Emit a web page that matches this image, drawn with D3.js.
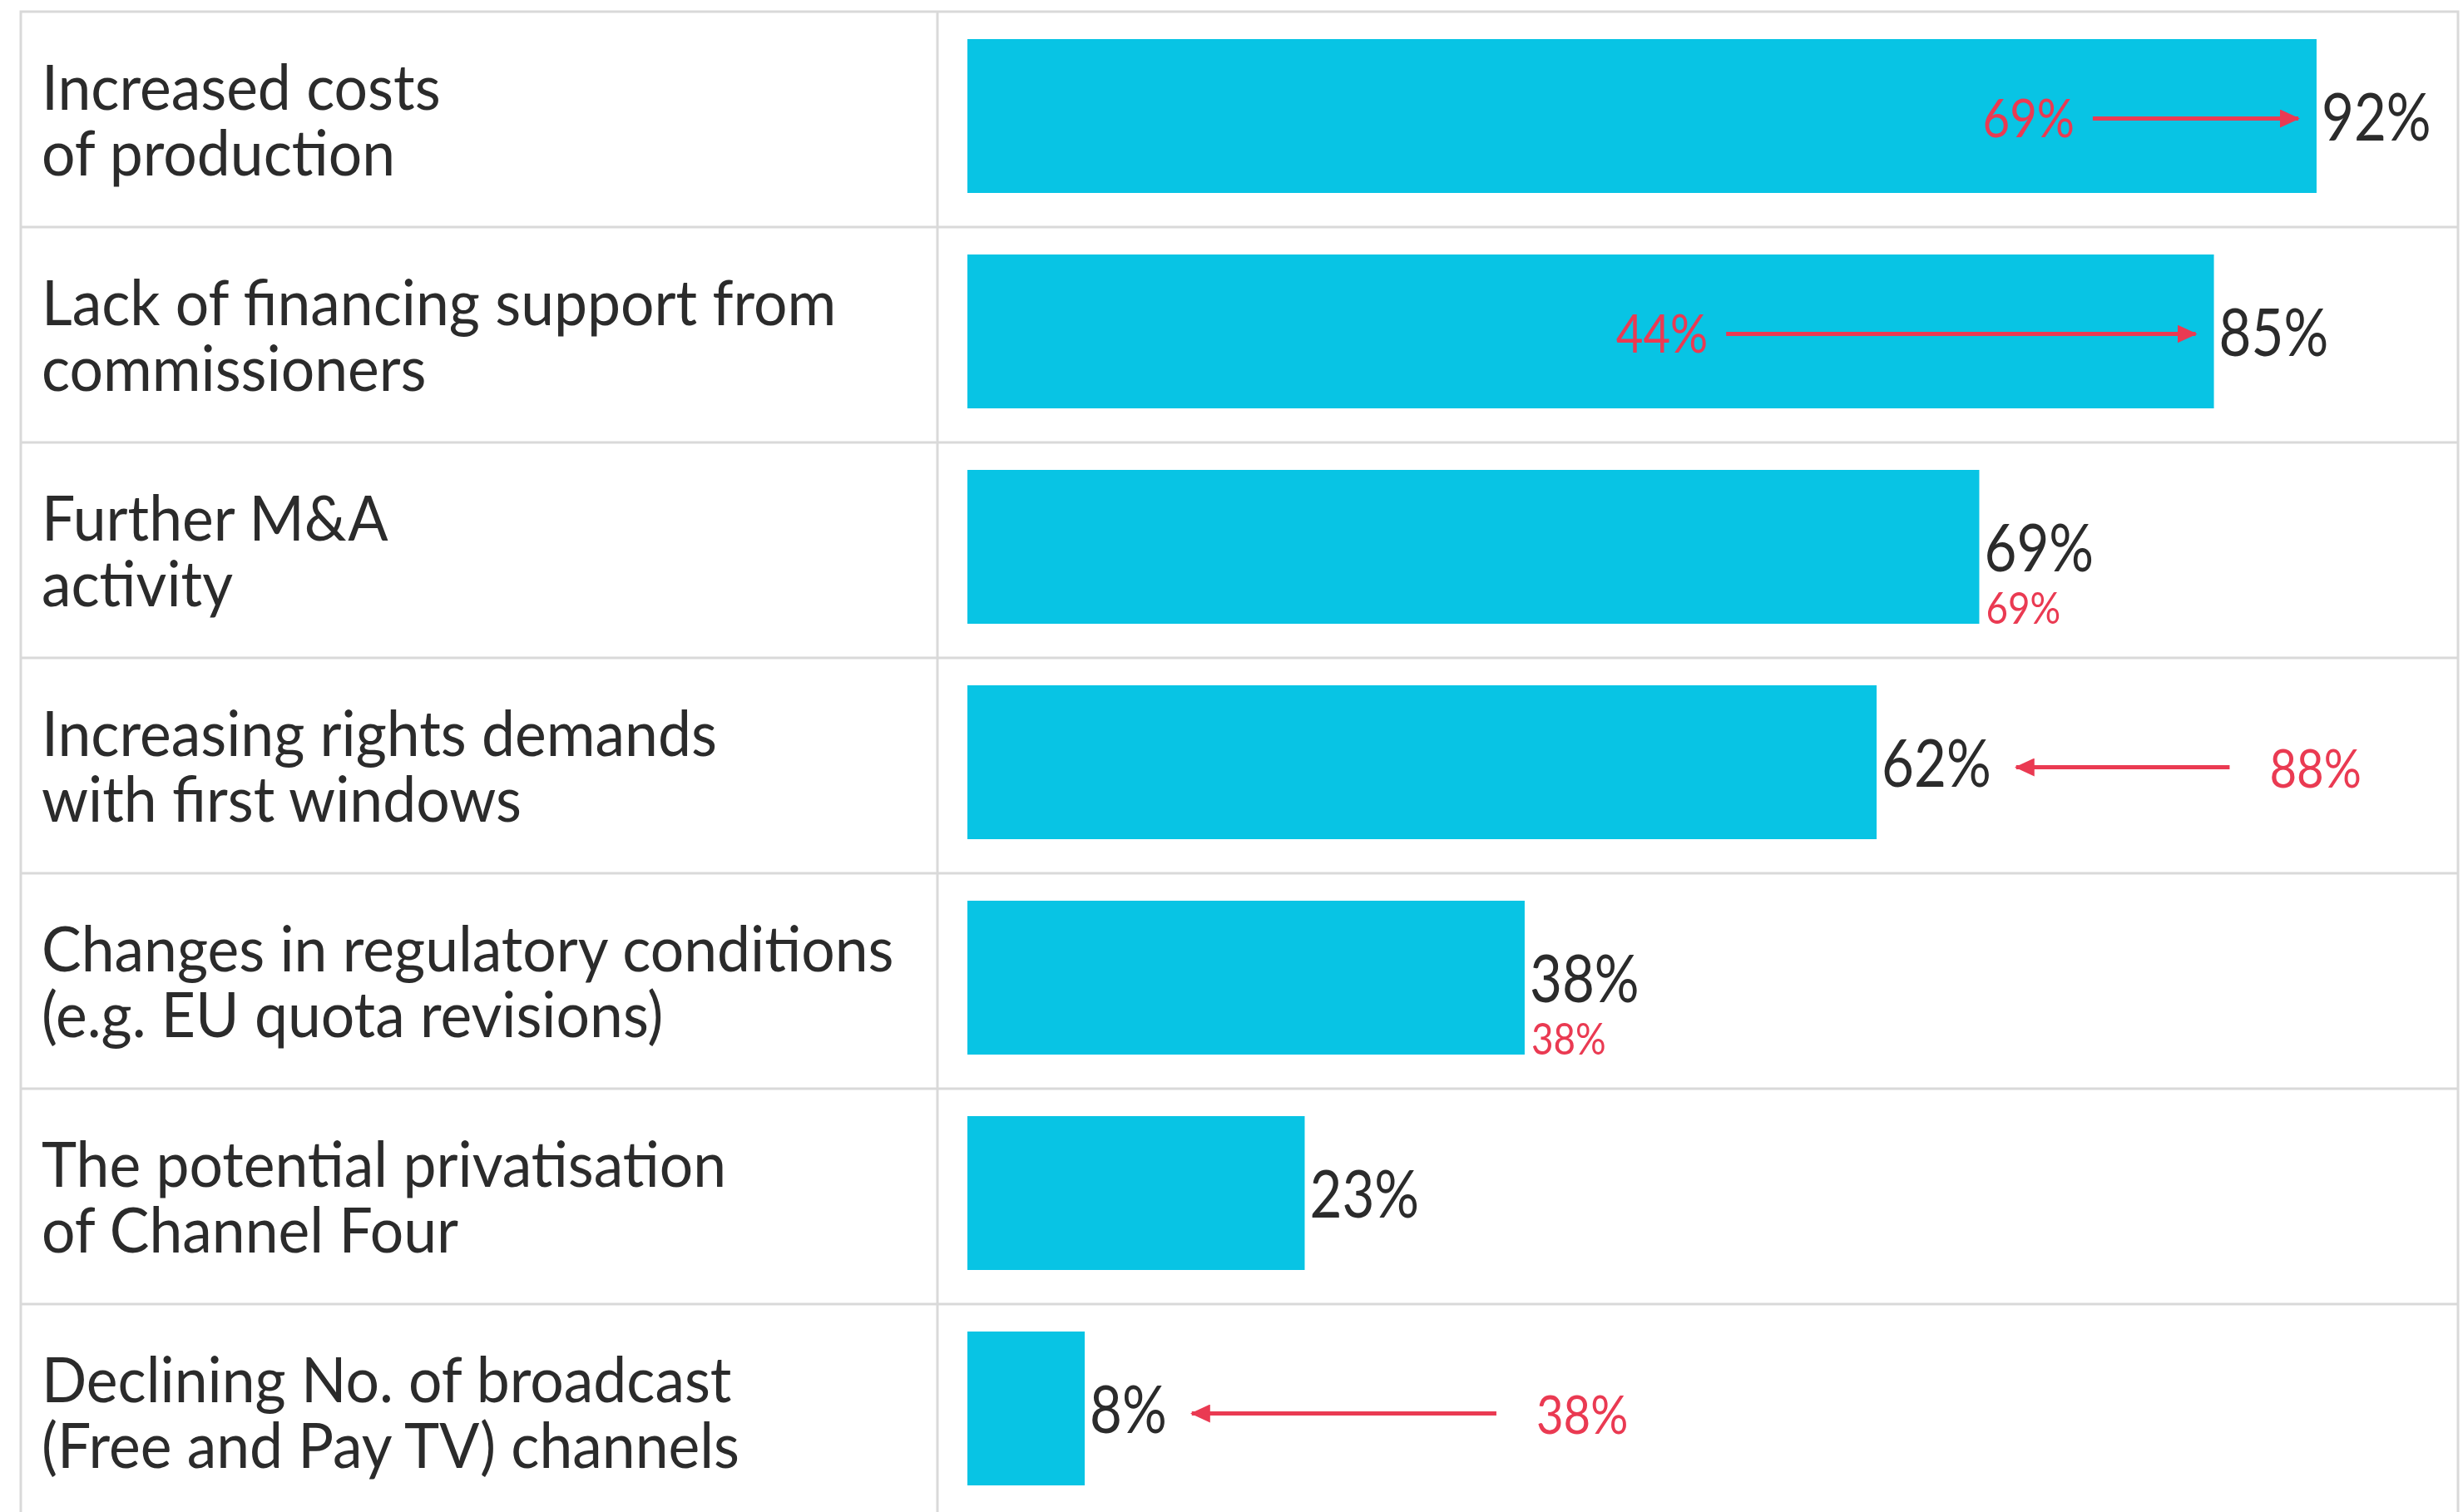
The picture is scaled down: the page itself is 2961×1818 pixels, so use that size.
<!DOCTYPE html>
<html>
<head>
<meta charset="utf-8" />
<script src="https://cdn.jsdelivr.net/npm/d3@7"></script>
<title>concerns</title>
<style>
  body { margin: 0; background: #fff; }
  text { font-family: Lato, "Open Sans", sans-serif; font-weight: 400; }
</style>
</head>
<body>
<script>
// data
var categories = [
  ["Increased costs", "of production"],
  ["Lack of financing support from", "commissioners"],
  ["Further M&A", "activity"],
  ["Increasing rights demands", "with first windows"],
  ["Changes in regulatory conditions", "(e.g. EU quota revisions)"],
  ["The potential privatisation", "of Channel Four"],
  ["Declining No. of broadcast", "(Free and Pay TV) channels"]
];
var current = [92, 85, 69, 62, 38, 23, 8];
var previous = [69, 44, 69, 88, 38, null, 38];

var W = 2961, H = 1818;
var cyan = "#08c4e4", red = "#ea3a52", ink = "#2b2b2b", grid = "#d9d9d9";
var sxCat = 0.94, sx = 0.85, sxRed = 0.88; // squeeze text to look like the narrow face

var svg = d3.select("body").append("svg")
  .attr("width", W).attr("height", H);

var idx = d3.range(categories.length);
var y = d3.scaleBand().domain(idx).range([14, 14 + 259 * idx.length]);
var x = d3.scaleLinear().domain([0, 100]).range([1163, 2926]);

var barTop = 33, barH = 185;
function mid(i) { return y(i) + barTop + barH / 2; }

svg.append("defs").append("marker")
  .attr("id", "head")
  .attr("markerUnits", "userSpaceOnUse")
  .attr("viewBox", "0 0 24 22")
  .attr("refX", 22).attr("refY", 11)
  .attr("markerWidth", 24).attr("markerHeight", 22)
  .attr("orient", "auto")
  .append("path").attr("d", "M0,0 L24,11 L0,22 Z").attr("fill", red);

// table lines
svg.append("rect")
  .attr("x", 25).attr("y", 14)
  .attr("width", 2930).attr("height", 259 * idx.length)
  .attr("fill", "none").attr("stroke", grid).attr("stroke-width", 3);
svg.append("line")
  .attr("x1", 1127).attr("x2", 1127).attr("y1", 14).attr("y2", H)
  .attr("stroke", grid).attr("stroke-width", 3);
svg.selectAll("line.row").data(idx.slice(1)).enter().append("line")
  .attr("class", "row")
  .attr("x1", 25).attr("x2", 2955)
  .attr("y1", function(i) { return y(i); })
  .attr("y2", function(i) { return y(i); })
  .attr("stroke", grid).attr("stroke-width", 3);

// category labels, one text per line
idx.forEach(function(i) {
  categories[i].forEach(function(line, k) {
    svg.append("text")
      .attr("class", "cat")
      .attr("transform", "translate(50," + (y(i) + 118 + k * 79) + ") scale(" + sxCat + ",1)")
      .attr("fill", ink).attr("font-size", 76)
      .text(line);
  });
});

// bars
svg.selectAll("rect.bar").data(idx).enter().append("rect")
  .attr("class", "bar")
  .attr("x", x(0))
  .attr("y", function(i) { return y(i) + barTop; })
  .attr("width", function(i) { return x(current[i]) - x(0); })
  .attr("height", barH)
  .attr("fill", cyan);

// value labels
var vals = svg.selectAll("text.val").data(idx).enter().append("text")
  .attr("class", "val")
  .attr("transform", function(i) { return "translate(" + (x(current[i]) + 6) + "," + (mid(i) + 29) + ") scale(" + sx + ",1)"; })
  .attr("fill", ink).attr("font-size", 79)
  .text(function(i) { return current[i] + "%"; });

var valEnd = {};
vals.each(function(i) { valEnd[i] = x(current[i]) + 6 + this.getComputedTextLength() * sx; });

// previous-year marks
idx.forEach(function(i) {
  var p = previous[i], c = current[i];
  if (p == null) return;
  var m = mid(i);
  if (p === c) {
    svg.append("text")
      .attr("transform", "translate(" + (x(c) + 8) + "," + (m + 92) + ") scale(" + sxRed + ",1)")
      .attr("fill", red).attr("font-size", 52)
      .text(p + "%");
  } else if (p < c) {
    var t = svg.append("text")
      .attr("transform", "translate(" + (x(p) + 4) + "," + (m + 25) + ") scale(" + sxRed + ",1)")
      .attr("fill", red).attr("font-size", 64)
      .text(p + "%");
    var end = x(p) + 4 + t.node().getComputedTextLength() * sxRed;
    svg.append("line")
      .attr("x1", end + 22).attr("x2", x(c) - 22)
      .attr("y1", m + 3).attr("y2", m + 3)
      .attr("stroke", red).attr("stroke-width", 5)
      .attr("marker-end", "url(#head)");
  } else {
    var tx = x(p) + 14;
    svg.append("text")
      .attr("transform", "translate(" + tx + "," + (m + 30) + ") scale(" + sxRed + ",1)")
      .attr("fill", red).attr("font-size", 64)
      .text(p + "%");
    svg.append("line")
      .attr("x1", tx - 48).attr("x2", valEnd[i] + 30)
      .attr("y1", m + 6).attr("y2", m + 6)
      .attr("stroke", red).attr("stroke-width", 5)
      .attr("marker-end", "url(#head)");
  }
});
</script>
</body>
</html>
